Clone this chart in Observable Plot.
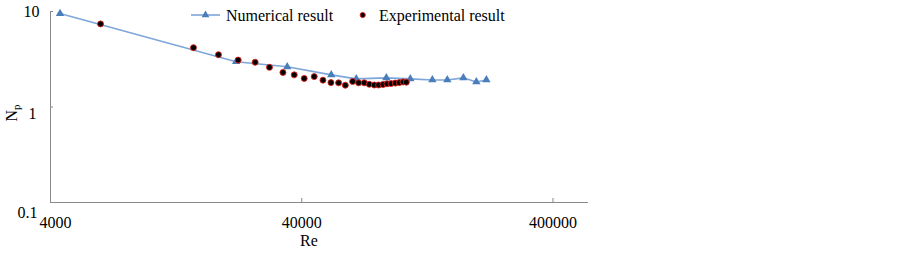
<!DOCTYPE html>
<html>
<head>
<meta charset="utf-8">
<script src="https://cdn.jsdelivr.net/npm/d3@7"></script>
<script src="https://cdn.jsdelivr.net/npm/@observablehq/plot@0.6"></script>
<style>
  html, body { margin: 0; padding: 0; background: #fff; }
  #chart svg { display: block; }
</style>
</head>
<body>
<div id="chart"></div>
<script>
// Numerical result (blue line + triangles)
const reNum = [4365, 21930, 35020, 52430, 65950, 86850, 108200, 132400, 151900, 176000, 198200, 217300];
const npNum = [9.53, 2.98, 2.64, 2.17, 1.97, 2.02, 1.97, 1.92, 1.92, 2.02, 1.83, 1.92];
// Experimental result (black dots with red outline)
const reExp = [6328, 14830, 18650, 22340, 26100, 29760, 33670, 37340, 40920, 44850, 48590, 52290, 56080, 59640, 63760, 67360, 70970, 74290, 77800, 80910, 84230, 87400, 90690, 94320, 97840, 101200, 104300];
const npExp = [7.42, 4.18, 3.53, 3.10, 2.94, 2.60, 2.30, 2.17, 1.99, 2.08, 1.91, 1.80, 1.79, 1.69, 1.85, 1.79, 1.79, 1.73, 1.70, 1.70, 1.72, 1.75, 1.76, 1.78, 1.80, 1.83, 1.82];
// Axis ticks
const xTicks = [4000, 40000, 400000];
const yTicks = [10, 1, 0.1];
const xDomain = [4000, 554000];
const yDomain = [0.1, 10];

const numerical = reNum.map((re, i) => ({re, np: npNum[i]}));
const experimental = reExp.map((re, i) => ({re, np: npExp[i]}));

const axisColor = "#898989";
const blueLine = "#7fa6d9";
const blueMark = "#4a7ebb";
const fmt = d => String(d);
const font = "'Liberation Serif', 'Times New Roman', serif";

const chart = Plot.plot({
  width: 902,
  height: 253,
  marginLeft: 50,
  marginRight: 314,
  marginTop: 11,
  marginBottom: 51,
  style: {fontFamily: font, fontSize: "16px", color: "black", background: "white"},
  x: {type: "log", domain: xDomain},
  y: {type: "log", domain: yDomain},
  marks: [
    Plot.ruleX([xDomain[0]], {stroke: axisColor}),
    Plot.ruleY([yDomain[0]], {stroke: axisColor}),
    // inward tick marks
    Plot.axisY({ticks: yTicks, tickSize: -3, tickFormat: () => "", stroke: axisColor, label: null}),
    Plot.axisX({ticks: xTicks.slice(1), tickSize: -4, tickFormat: () => "", stroke: axisColor, label: null}),
    // tick labels
    Plot.axisY({ticks: [yTicks[0]], tickSize: 0, tickPadding: 11, tickFormat: fmt, fontSize: 16, fontFamily: font, label: null}),
    Plot.axisY({ticks: [yTicks[1]], tickSize: 0, tickPadding: 14, dy: 7, tickFormat: fmt, fontSize: 16, fontFamily: font, label: null}),
    Plot.axisY({ticks: [yTicks[2]], tickSize: 0, tickPadding: 13, dy: 10, tickFormat: fmt, fontSize: 16, fontFamily: font, label: null}),
    Plot.axisX({ticks: [xTicks[0]], tickSize: 0, tickPadding: 14, dx: 5, tickFormat: fmt, fontSize: 16, fontFamily: font, label: null}),
    Plot.axisX({ticks: xTicks.slice(1), tickSize: 0, tickPadding: 14, tickFormat: fmt, fontSize: 16, fontFamily: font, label: null}),
    // data
    Plot.line(numerical, {x: "re", y: "np", stroke: blueLine, strokeWidth: 1.6}),
    Plot.dot(numerical, {x: "re", y: "np", symbol: "triangle", r: 3.1, fill: blueMark, stroke: "none"}),
    Plot.dot(experimental, {x: "re", y: "np", r: 3, fill: "black", stroke: "#e0201c", strokeWidth: 0.9})
  ]
});

document.getElementById("chart").appendChild(chart);

// Axis titles and legend
const svg = d3.select(chart);
svg.append("text")
  .attr("x", 309).attr("y", 246)
  .attr("text-anchor", "middle")
  .attr("font-family", font).attr("font-size", 16).attr("fill", "black")
  .text("Re");
const np = svg.append("text")
  .attr("transform", "translate(17,113) rotate(-90)")
  .attr("text-anchor", "middle")
  .attr("font-family", font).attr("font-size", 16).attr("fill", "black");
np.append("tspan").text("N");
np.append("tspan").attr("font-size", 11).attr("dy", 3).text("p");

const leg = svg.append("g").attr("text-anchor", "start");
leg.append("line").attr("x1", 191).attr("x2", 220).attr("y1", 15).attr("y2", 15)
  .attr("stroke", blueLine).attr("stroke-width", 1.6);
leg.append("path").attr("d", d3.symbol(d3.symbolTriangle, 26)())
  .attr("transform", "translate(205.5,15)").attr("fill", blueMark);
leg.append("text").attr("x", 226).attr("y", 21)
  .attr("text-anchor", "start")
  .attr("font-family", font).attr("font-size", 16).attr("fill", "black")
  .text("Numerical result");
leg.append("circle").attr("cx", 362.7).attr("cy", 15).attr("r", 2.6)
  .attr("fill", "black").attr("stroke", "#e0201c").attr("stroke-width", 0.9);
leg.append("text").attr("x", 379).attr("y", 21)
  .attr("text-anchor", "start")
  .attr("font-family", font).attr("font-size", 16).attr("fill", "black")
  .text("Experimental result");
</script>
</body>
</html>
